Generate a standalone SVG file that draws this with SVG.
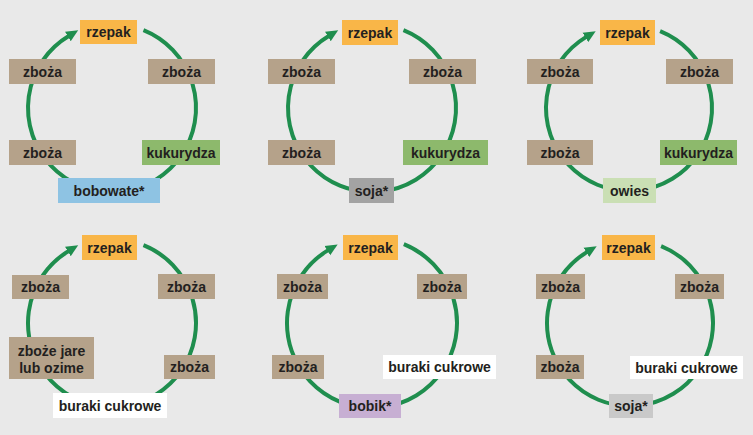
<svg xmlns="http://www.w3.org/2000/svg" width="753" height="435" viewBox="0 0 753 435">
<style>
.bg{fill:#E9E9E9}
.c{fill:none;stroke:#1F8E4E;stroke-width:4}
.t{font-family:"Liberation Sans",Arial,sans-serif;font-weight:bold;font-size:14px;fill:#231F20;text-anchor:middle}
.or{fill:#F9B648}.tan{fill:#B5A28A}.gr{fill:#8DB96C}.bl{fill:#8EC3E3}.gy{fill:#A3A3A3}.lg{fill:#CADFB4}.wh{fill:#FFFFFF}.pu{fill:#C7AFD3}.lgy{fill:#C9C9C9}
</style>
<defs>
<marker id="ah" markerUnits="userSpaceOnUse" markerWidth="13" markerHeight="12" viewBox="0 0 13 12" refX="1" refY="6" orient="auto">
<path d="M0,0.5 L12,6 L0,11.5 z" fill="#1F8E4E"/>
</marker>
</defs>
<rect class="bg" x="0" y="0" width="753" height="435"/>
<g id="connectors">
<path class="c" marker-end="url(#ah)" d="M 143.47 30.12 A 84 84 0 1 1 68.74 36.00"/>
<path class="c" marker-end="url(#ah)" d="M 403.47 30.12 A 84 84 0 1 1 328.74 36.00"/>
<path class="c" marker-end="url(#ah)" d="M 660.09 31.04 A 83 83 0 1 1 586.25 36.86"/>
<path class="c" marker-end="url(#ah)" d="M 143.47 245.12 A 84 84 0 1 1 68.74 251.00"/>
<path class="c" marker-end="url(#ah)" d="M 403.84 244.19 A 85 85 0 1 1 328.22 250.14"/>
<path class="c" marker-end="url(#ah)" d="M 661.09 246.04 A 83 83 0 1 1 587.25 251.86"/>
</g>
<!-- Panel 1 -->
<g id="p1-rzepak"><rect class="or" x="80" y="20" width="57" height="24"/><text class="t" x="108.5" y="37">rzepak</text></g>
<g id="p1-zboza1"><rect class="tan" x="9" y="59" width="67" height="25"/><text class="t" x="42.5" y="76.5">zboża</text></g>
<g id="p1-zboza2"><rect class="tan" x="148" y="59" width="67" height="25"/><text class="t" x="181.5" y="76.5">zboża</text></g>
<g id="p1-zboza3"><rect class="tan" x="9" y="140" width="67" height="25"/><text class="t" x="42.5" y="157.5">zboża</text></g>
<g id="p1-kukurydza"><rect class="gr" x="142" y="140" width="78" height="25"/><text class="t" x="181" y="157.5">kukurydza</text></g>
<g id="p1-bobowate"><rect class="bl" x="58" y="178" width="102" height="25"/><text class="t" x="109" y="195.5">bobowate*</text></g>
<!-- Panel 2 -->
<g id="p2-rzepak"><rect class="or" x="342" y="20" width="56" height="25"/><text class="t" x="370" y="37.5">rzepak</text></g>
<g id="p2-zboza1"><rect class="tan" x="268" y="59" width="67" height="25"/><text class="t" x="301.5" y="76.5">zboża</text></g>
<g id="p2-zboza2"><rect class="tan" x="409" y="59" width="67" height="25"/><text class="t" x="442.5" y="76.5">zboża</text></g>
<g id="p2-zboza3"><rect class="tan" x="268" y="140" width="67" height="25"/><text class="t" x="301.5" y="157.5">zboża</text></g>
<g id="p2-kukurydza"><rect class="gr" x="403" y="140" width="85" height="25"/><text class="t" x="445.5" y="157.5">kukurydza</text></g>
<g id="p2-soja"><rect class="gy" x="349" y="178" width="45" height="25"/><text class="t" x="371.5" y="195.5">soja*</text></g>
<!-- Panel 3 -->
<g id="p3-rzepak"><rect class="or" x="600" y="20" width="55" height="25"/><text class="t" x="627.5" y="37.5">rzepak</text></g>
<g id="p3-zboza1"><rect class="tan" x="527" y="59" width="66" height="25"/><text class="t" x="560" y="76.5">zboża</text></g>
<g id="p3-zboza2"><rect class="tan" x="666" y="59" width="67" height="25"/><text class="t" x="699.5" y="76.5">zboża</text></g>
<g id="p3-zboza3"><rect class="tan" x="527" y="140" width="66" height="25"/><text class="t" x="560" y="157.5">zboża</text></g>
<g id="p3-kukurydza"><rect class="gr" x="660" y="140" width="77" height="25"/><text class="t" x="698.5" y="157.5">kukurydza</text></g>
<g id="p3-owies"><rect class="lg" x="603" y="178" width="53" height="25"/><text class="t" x="629.5" y="195.5">owies</text></g>
<!-- Panel 4 -->
<g id="p4-rzepak"><rect class="or" x="82" y="235" width="55" height="25"/><text class="t" x="109.5" y="252.5">rzepak</text></g>
<g id="p4-zboza1"><rect class="tan" x="12" y="275" width="57" height="24"/><text class="t" x="40.5" y="292">zboża</text></g>
<g id="p4-zboza2"><rect class="tan" x="158" y="274" width="57" height="25"/><text class="t" x="186.5" y="291.5">zboża</text></g>
<g id="p4-zboze"><rect class="tan" x="9" y="337" width="85" height="42"/><text class="t" x="51.5" y="356">zboże jare</text><text class="t" x="51.5" y="373">lub ozime</text></g>
<g id="p4-zboza3"><rect class="tan" x="164" y="355" width="51" height="24"/><text class="t" x="189.5" y="372">zboża</text></g>
<g id="p4-buraki"><rect class="wh" x="53" y="393" width="114" height="25"/><text class="t" x="110" y="410.5">buraki cukrowe</text></g>
<!-- Panel 5 -->
<g id="p5-rzepak"><rect class="or" x="343" y="235" width="55" height="25"/><text class="t" x="370.5" y="252.5">rzepak</text></g>
<g id="p5-zboza1"><rect class="tan" x="277" y="274" width="51" height="25"/><text class="t" x="302.5" y="291.5">zboża</text></g>
<g id="p5-zboza2"><rect class="tan" x="417" y="274" width="50" height="25"/><text class="t" x="442" y="291.5">zboża</text></g>
<g id="p5-zboza3"><rect class="tan" x="272" y="355" width="52" height="24"/><text class="t" x="298" y="372">zboża</text></g>
<g id="p5-buraki"><rect class="wh" x="383" y="355" width="113" height="24"/><text class="t" x="439.5" y="372">buraki cukrowe</text></g>
<g id="p5-bobik"><rect class="pu" x="339" y="394" width="62" height="24"/><text class="t" x="370" y="411">bobik*</text></g>
<!-- Panel 6 -->
<g id="p6-rzepak"><rect class="or" x="602" y="235" width="53" height="25"/><text class="t" x="628.5" y="252.5">rzepak</text></g>
<g id="p6-zboza1"><rect class="tan" x="536" y="274" width="49" height="25"/><text class="t" x="560.5" y="291.5">zboża</text></g>
<g id="p6-zboza2"><rect class="tan" x="675" y="274" width="49" height="25"/><text class="t" x="699.5" y="291.5">zboża</text></g>
<g id="p6-zboza3"><rect class="tan" x="536" y="355" width="48" height="24"/><text class="t" x="560" y="372">zboża</text></g>
<g id="p6-buraki"><rect class="wh" x="630" y="356" width="113" height="23"/><text class="t" x="686.5" y="372.5">buraki cukrowe</text></g>
<g id="p6-soja"><rect class="lgy" x="609" y="394" width="44" height="24"/><text class="t" x="631" y="411">soja*</text></g>
</svg>
